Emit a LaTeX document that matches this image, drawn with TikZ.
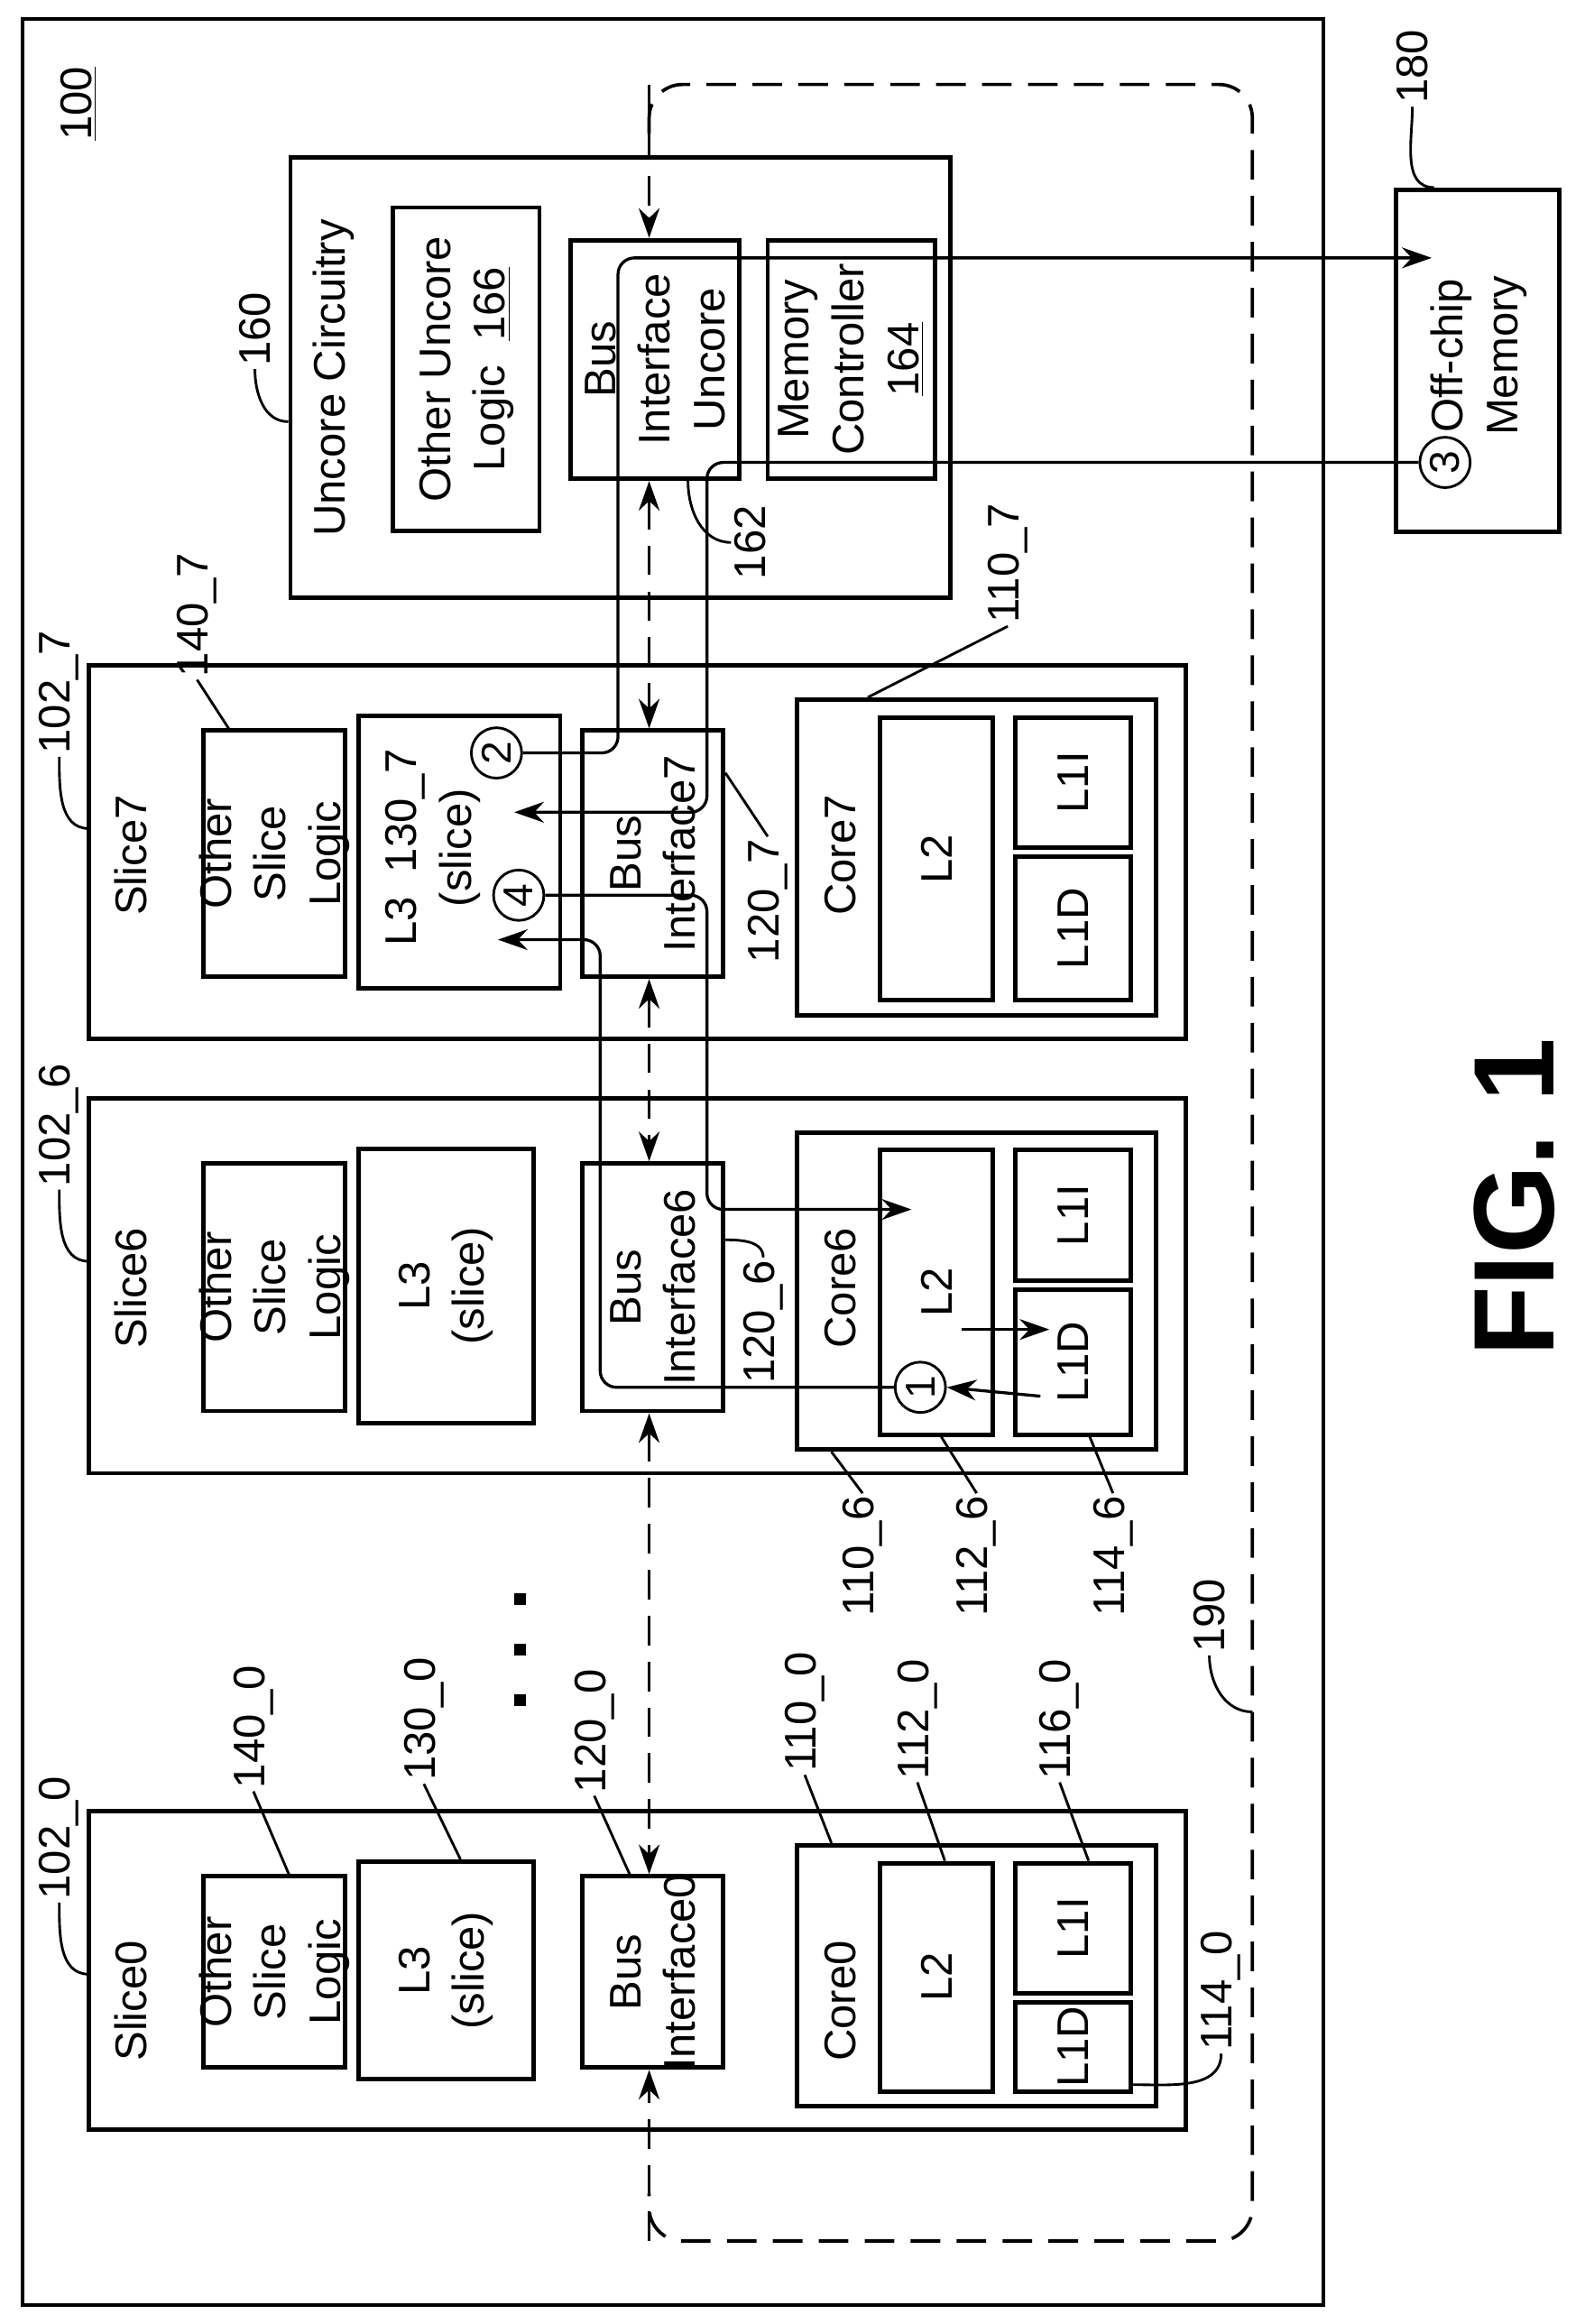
\documentclass[tikz,border=0pt]{standalone}
\usepackage{fontspec}
\setmainfont{Liberation Sans}
\usetikzlibrary{fit,calc,arrows.meta}

\begin{document}
\begin{tikzpicture}[
  x=0.02cm,y=-0.02cm,
  >={Stealth[length=0.4cm,width=0.28cm]},
  box/.style={draw,line width=0.06cm,inner sep=0,fit={#1}},
  txt/.style={rotate=90,align=center,font=\fontsize{17}{21}\selectfont,inner sep=0},
  num/.style={rotate=90,font=\fontsize{17}{21}\selectfont,inner sep=1pt},
  lead/.style={line width=0.035cm},
  flow/.style={line width=0.04cm,rounded corners=0.22cm},
  dbus/.style={line width=0.045cm,dash pattern=on 0.4cm off 0.22cm},
  stepno/.style={circle,draw,line width=0.035cm,inner sep=0,minimum size=0.68cm,font=\fontsize{16}{16}\selectfont}
]
\useasboundingbox (0,0) rectangle (1069,1568);

% frame and bus ring
\draw[line width=0.05cm] (15,13) rectangle (893,1555);
\coordinate (topd) at (438,57);
\coordinate (botd) at (438,1512);
\coordinate (ringr) at (845,1155);
\draw[dbus,rounded corners=0.45cm] (438,90) -- (topd) -- (845,57) -- (845,1512) -- (botd) -- (438,1480);
\node[num] (n100) at (53,70) {\underline{100}};

% slices
\foreach \n/\t/\b/\r in {0/1222/1437/360, 6/741/994/360, 7/449/701/378}{
  \node[box={(60,\t) (800,\b)}] (slice\n) {};
  \node[txt] at (88,\t+128) {Slice\n};
  \node[box={(137,\t+44) (233,\b-42)}] (osl\n) {};
  \node[txt] at (osl\n) {Other\\Slice\\Logic};
  \node[box={(242,\t+34) (\r,\b-34)}] (lthree\n) {};
  \node[box={(393,\t+44) (488,\b-42)}] (bus\n) {};
  \node[txt] at (bus\n) {Bus\\Interface\n};
  \node[box={(538,\t+23) (780,\b-16)}] (core\n) {};
  \node[txt] at (567,\t+128) {Core\n};
  \node[box={(594,\t+35) (670,\b-26)}] (ltwo\n) {};
  \node[txt] at (ltwo\n) {L2};
  \node[box={(685,\t+35) (763,\t+123)}] (lonei\n) {};
  \node[txt] at (lonei\n) {L1I};
  \node[box={(685,\t+129) (763,\b-26)}] (loned\n) {};
  \node[txt] at (loned\n) {L1D};
  \node[num] (n102\n) at (40,\t+18) {102\_\n};
  \draw[lead] (n102\n.west) to[out=-90,in=180] (60,\t+110);
}
\node[txt] at (lthree0) {L3\\(slice)};
\node[txt] at (lthree6) {L3\\(slice)};
\node[txt] at (292,572) {L3\ \ 130\_7\\(slice)};

\foreach \y in {1079,1113,1147}
  \fill (347,\y-4) rectangle (355,\y+4);

% uncore
\node[box={(196,106) (641,403)}] (uncore) {};
\node[txt] at (225,255) {Uncore Circuitry};
\node[box={(265,140) (364,358)}] (other) {};
\node[txt] at (other) {Other Uncore\\Logic\ \ \underline{166}};
\node[box={(385,162) (499,323)}] (busu) {};
\node[txt] at (busu) {Bus\\Interface\\Uncore};
\node[box={(518,162) (631,323)}] (memc) {};
\node[txt] at (memc) {Memory\\Controller\\\underline{164}};

% off-chip memory
\node[box={(942,128) (1052,359)}] (mem) {};
\node[txt] at (998,240) {Off-chip\\Memory};
\coordinate (memin) at (966,174);

% steps
\node[stepno] (c1) at (621,936) {\rotatebox{90}{1}};
\node[stepno] (c2) at (335,508) {\rotatebox{90}{2}};
\node[stepno] (c3) at (975,312) {\rotatebox{90}{3}};
\node[stepno] (c4) at (350,604) {\rotatebox{90}{4}};

% bus ring arrows
\draw[dbus,->] (topd) -- (topd |- busu.north);
\draw[dbus,<->] (busu.south -| topd) -- (bus7.north -| topd);
\draw[dbus,<->] (bus7.south -| topd) -- (bus6.north -| topd);
\draw[dbus,<->] (bus6.south -| topd) -- (bus0.north -| topd);
\draw[dbus,->] (botd) -- (bus0.south -| topd);

% request flow
\draw[flow,->] (c2.east) -| (417,174) -- (memin);
\draw[flow,->] (c3.west) -| (477,548) -- (347,548);
\draw[flow,->] (c4.east) -| (477,816) -- (615,816);
\draw[flow,->] (c1.west) -| (405,634) -- (336,634);
\draw[flow,->] (649,897) -- (708,897);
\draw[flow,->] (702,942) -- (c1.east);

% reference numerals
\node[num] (n1400) at (171,1165) {140\_0};
\node[num] (n1300) at (286,1160) {130\_0};
\node[num] (n1200) at (401,1168) {120\_0};
\node[num] (n1100) at (543,1155) {110\_0};
\node[num] (n1120) at (619,1160) {112\_0};
\node[num] (n1160) at (715,1160) {116\_0};
\node[num] (n1140) at (824,1343) {114\_0};
\draw[lead] (n1400.west) -- ($(osl0.north west)!0.6!(osl0.north east)$);
\draw[lead] (n1300.west) -- ($(lthree0.north west)!0.58!(lthree0.north east)$);
\draw[lead] (n1200.west) -- ($(bus0.north west)!0.34!(bus0.north east)$);
\draw[lead] (n1100.west) -- ($(core0.north west)!0.1!(core0.north east)$);
\draw[lead] (n1120.west) -- ($(ltwo0.north west)!0.57!(ltwo0.north east)$);
\draw[lead] (n1160.west) -- ($(lonei0.north west)!0.63!(lonei0.north east)$);
\draw[lead] ($(loned0.south east)+(0,-6)$) to[out=0,in=-90] (n1140.west);

\node[num] (n1106) at (582,1050) {110\_6};
\node[num] (n1126) at (659,1050) {112\_6};
\node[num] (n1146) at (751,1050) {114\_6};
\node[num] (n1206) at (515,892) {120\_6};
\draw[lead] ($(core6.south west)!0.1!(core6.south east)$) -- (n1106.east);
\draw[lead] ($(ltwo6.south west)!0.54!(ltwo6.south east)$) -- (n1126.east);
\draw[lead] ($(loned6.south west)!0.64!(loned6.south east)$) -- (n1146.east);
\draw[lead] ($(bus6.north east)+(0,53)$) to[out=0,in=90] (n1206.east);

\node[num] (n1207) at (518,608) {120\_7};
\node[num] (n1107) at (680,380) {110\_7};
\node[num] (n1407) at (133,415) {140\_7};
\draw[lead] ($(bus7.north east)+(0,30)$) -- (n1207.east);
\draw[lead] ($(core7.north west)!0.2!(core7.north east)$) -- (n1107.west);
\draw[lead] ($(osl7.north west)!0.19!(osl7.north east)$) -- (n1407.west);

\node[num] (n160) at (172,222) {160};
\node[num] (n162) at (506,366) {162};
\node[num] (n180) at (953,45) {180};
\node[num] (n190) at (816,1090) {190};
\draw[lead] (n160.west) to[out=-90,in=180] ($(uncore.north west)+(0,180)$);
\draw[lead] ($(busu.south west)!0.69!(busu.south east)$) to[out=-90,in=180] (n162.north);
\draw[lead] (n180.west) to[out=-90,in=180] ($(mem.north west)!0.24!(mem.north east)$);
\draw[lead] (n190.west) to[out=-90,in=180] (ringr);

\node[rotate=90,font=\bfseries\fontsize{44}{48}\selectfont] (fig) at (1022,808) {FIG. 1};
\end{tikzpicture}
\end{document}
